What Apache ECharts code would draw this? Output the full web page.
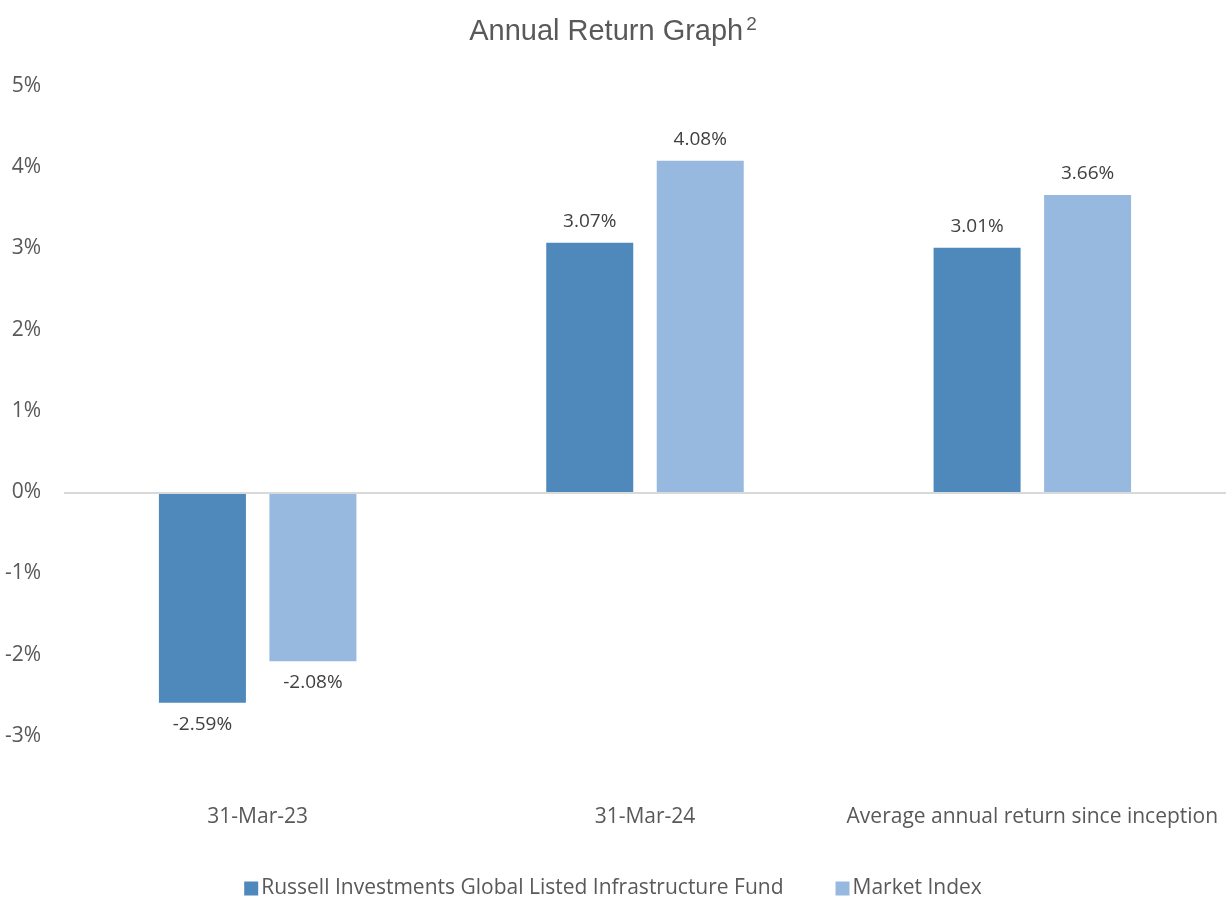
<!DOCTYPE html>
<html>
<head>
<meta charset="utf-8">
<script src="https://cdn.jsdelivr.net/npm/echarts@6/dist/echarts.min.js"></script>
<style>
html, body { margin: 0; padding: 0; background: #fff; }
#graph { width: 1226px; height: 898px; }
</style>
</head>
<body>
<div id="graph"></div>
<script>
var categories = ['31-Mar-23', '31-Mar-24', 'Average annual return since inception'];
var fundName = 'Russell Investments Global Listed Infrastructure Fund';
var indexName = 'Market Index';
var fundValues = [-2.59, 3.07, 3.01];
var indexValues = [-2.08, 4.08, 3.66];
var yTicks = [-3, -2, -1, 0, 1, 2, 3, 4, 5];

var myChart = echarts.init(document.getElementById('graph'));

var labelFont = '"Open Sans", "Noto Sans", sans-serif';

function barLabel() {
    return {
        show: true,
        position: 'outside',
        distance: 12,
        color: '#404040',
        fontSize: 19,
        fontFamily: labelFont,
        formatter: function (p) { return p.value.toFixed(2) + '%'; }
    };
}

var option = {
    animation: false,
    title: {
        text: '{t|Annual Return Graph}{s|2}',
        left: 'center',
        top: 10,
        textStyle: {
            rich: {
                t: { fontSize: 29, fontWeight: 'normal', color: '#595959', fontFamily: '"Liberation Sans", Arial, sans-serif' },
                s: { fontSize: 19, fontWeight: 'normal', color: '#595959', fontFamily: '"Liberation Sans", Arial, sans-serif', verticalAlign: 'top', padding: [0, 0, 14, 3] }
            }
        }
    },
    legend: {
        top: 873,
        left: 'center',
        itemWidth: 14,
        itemHeight: 14,
        itemGap: 52,
        icon: 'rect',
        textStyle: { color: '#595959', fontSize: 21, fontFamily: labelFont, padding: [0, 0, 0, -2] },
        data: [fundName, indexName]
    },
    grid: {
        left: 64,
        right: -4,
        top: 86,
        bottom: 162
    },
    xAxis: {
        type: 'category',
        data: categories,
        axisLine: { show: false, onZero: false },
        axisTick: { show: false },
        axisLabel: { interval: 0, hideOverlap: false, margin: 71, color: '#595959', fontSize: 21, fontFamily: labelFont }
    },
    yAxis: {
        type: 'value',
        min: yTicks[0],
        max: yTicks[yTicks.length - 1],
        interval: 1,
        splitLine: { show: false },
        axisLine: { show: false },
        axisTick: { show: false },
        axisLabel: {
            margin: 23,
            color: '#595959',
            fontSize: 21,
            fontFamily: labelFont,
            formatter: function (v) { return v + '%'; }
        }
    },
    series: [
        {
            name: fundName,
            type: 'bar',
            barWidth: 87,
            barGap: '27%',
            itemStyle: { color: '#4f88bb' },
            label: barLabel(),
            data: fundValues,
            markLine: {
                silent: true,
                symbol: 'none',
                label: { show: false },
                lineStyle: { color: '#d9d9d9', width: 2, type: 'solid' },
                data: [{ yAxis: 0 }]
            }
        },
        {
            name: indexName,
            type: 'bar',
            barWidth: 87,
            barGap: '27%',
            itemStyle: { color: '#98b9df' },
            label: barLabel(),
            data: indexValues
        }
    ]
};

myChart.setOption(option);
</script>
</body>
</html>
